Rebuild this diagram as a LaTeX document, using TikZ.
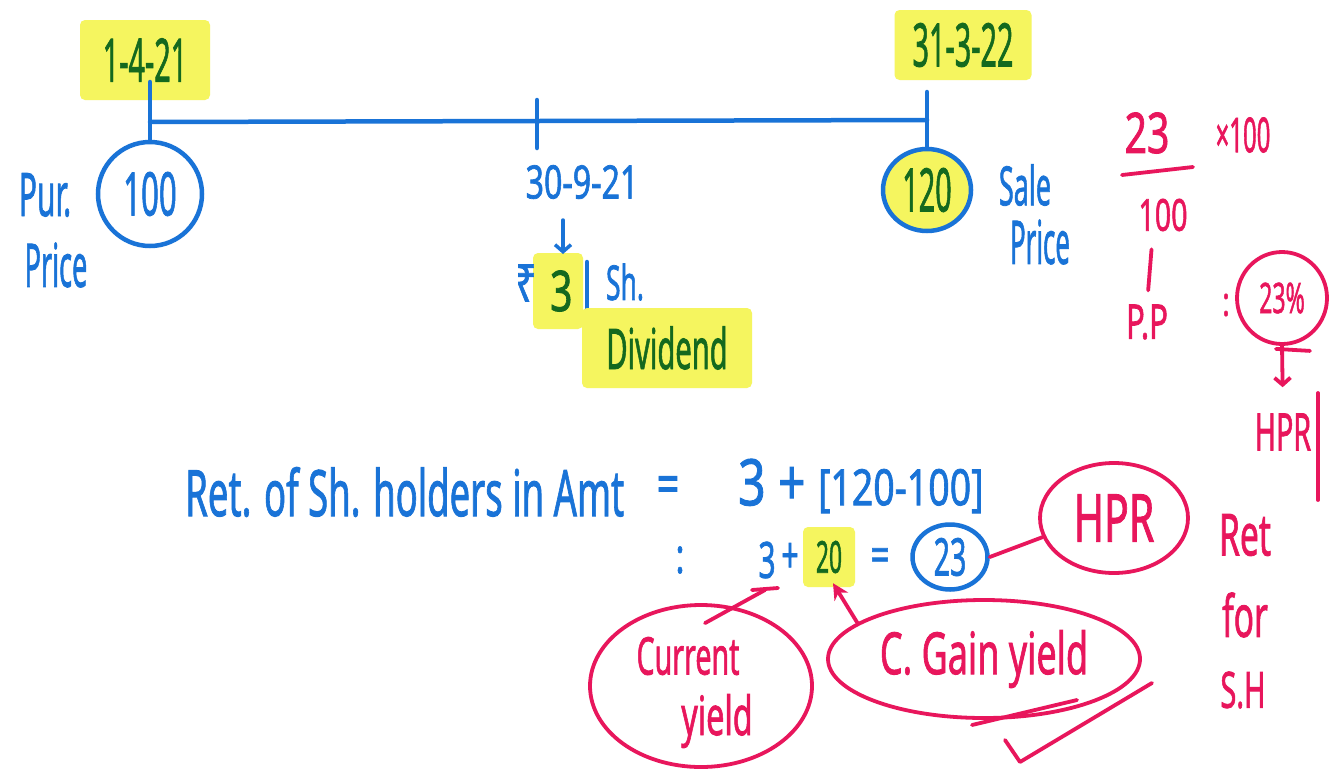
\documentclass[tikz,border=0pt]{standalone}
\usepackage{fontspec}
\setmainfont{Noto Sans}[AutoFakeBold=1.6]
\usepackage{graphicx}
\usetikzlibrary{shapes.geometric,arrows.meta}
\definecolor{inkblue}{RGB}{25,115,215}
\definecolor{inkgreen}{RGB}{20,105,30}
\definecolor{hlyellow}{RGB}{245,245,95}
\definecolor{inkred}{RGB}{232,22,92}
\newcommand{\hw}[3][0.55]{{\fontsize{#2}{#2}\selectfont\bfseries\scalebox{#1}[1]{#3}}}
\begin{document}
\begin{tikzpicture}[x=1pt,y=-1pt,
  bl/.style={text=inkblue, inner sep=0pt},
  gr/.style={text=inkgreen, inner sep=0pt},
  rd/.style={text=inkred, inner sep=0pt},
  hl/.style={fill=hlyellow, rounded corners=5pt},
  bline/.style={draw=inkblue, line width=4.5pt, line cap=round},
  rline/.style={draw=inkred, line width=3.8pt, line cap=round, line join=round},
  bring/.style={ellipse, draw=inkblue, line width=4.5pt},
  rring/.style={ellipse, draw=inkred, line width=3.8pt},
  barb/.style={-{Straight Barb[length=7pt,width=16pt]}},
  stl/.style={-{Stealth[length=16pt,width=16pt]}}
]
\useasboundingbox[fill=white] (0,0) rectangle (1336,774);

% ---- timeline ----
\node[gr, hl, minimum width=130, minimum height=80] (d1) at (145,60) {\hw[0.48]{60}{1-4-21}};
\node[gr, hl, minimum width=137, minimum height=70] (d3) at (963,45) {\hw[0.48]{60}{31-3-22}};
\node[bring, minimum width=104, minimum height=104, bl] (c100) at (150,194) {\hw[0.52]{60}{100}};
\node[bring, fill=hlyellow, minimum width=88, minimum height=82, gr] (c120) at (927,190) {\hw[0.48]{60}{120}};
\coordinate (t1top) at (150,82);
\coordinate (t1) at (150,122);
\coordinate (t2top) at (537,100);
\coordinate (t2bot) at (537,148);
\coordinate (t3top) at (927,92);
\coordinate (t3) at (927,120);
\draw[bline] (t1top) -- (c100.north);
\draw[bline] (t1) -- (t3);
\draw[bline] (t2top) -- (t2bot);
\draw[bline] (t3top) -- (c120.north);

\node[bl] (pur) at (45,195) {\hw[0.5]{60}{Pur.}};
\node[bl] (pprice) at (56,265) {\hw[0.45]{60}{Price}};
\node[bl] (sale) at (1025,185) {\hw[0.5]{54}{Sale}};
\node[bl] (sprice) at (1040,242) {\hw[0.43]{60}{Price}};

% ---- dividend ----
\node[bl] (mid) at (582,182) {\hw[0.7]{46}{30-9-21}};
\node[gr, hl, minimum width=50, minimum height=76] (three) at (558,291) {\hw[0.7]{56}{\,3}};
\node[bl] (rupee) at (526,283) {\hw[0.7]{52}{₹}};
\coordinate (a1s) at (563,220);
\coordinate (a1e) at (563,254);
\draw[bline, line width=3.5pt, barb] (a1s) -- (a1e);
\coordinate (bartop) at (587,262);
\coordinate (barbot) at (587,327);
\draw[bline] (bartop) -- (barbot);
\node[bl] (sh) at (625,282) {\hw[0.55]{48}{Sh.}};
\node[gr, hl, minimum width=170, minimum height=80] (div) at (667,348) {\hw[0.52]{56}{Dividend}};

% ---- equation ----
\node[bl, anchor=west] (eq1) at (185,492) {\hw[0.57]{64}{Ret. of Sh. holders in Amt}};
\node[bl] (eqs1) at (668,490) {\hw[0.7]{56}{=}};
\node[bl, anchor=west] (eq2) at (738,486) {\bfseries\scalebox{0.75}[1]{\fontsize{64}{64}\selectfont 3 + \fontsize{50}{50}\selectfont[120-100]}};

\node[bl] (colon) at (680,560) {\hw[0.7]{48}{:}};
\node[bl] (s3) at (767,560) {\hw[0.6]{50}{3}};
\node[bl] (plus) at (790,558) {\hw[0.6]{50}{+}};
\node[gr, hl, minimum width=52, minimum height=60] (s20) at (829,557) {\hw[0.52]{44}{20}};
\node[bl] (eqs2) at (880,560) {\hw[0.7]{48}{=}};
\node[bring, minimum width=75, minimum height=65, bl] (c23) at (950,557) {\hw[0.55]{52}{23}};

% ---- red annotations ----
\node[rring, minimum width=148, minimum height=110, rd] (hpr) at (1114,518) {\hw[0.62]{66}{HPR}};
\draw[rline] (c23.east) -- (hpr.195);

\node[rring, minimum width=222, minimum height=162] (cy) at (701,686) {};
\node[rd] (cyt1) at (688,656) {\hw[0.55]{52}{Current}};
\node[rd] (cyt2) at (717,721) {\hw[0.6]{54}{yield}};
\node[rring, minimum width=312, minimum height=118, rd] (cg) at (984,659) {\hw[0.62]{58}{C. Gain yield}};

\draw[rline, stl] (cg.164) -- ([xshift=4pt,yshift=4pt]s20.south);
\coordinate (cytip) at (765,590);
\draw[rline] (cy.north) ++(4,20) -- (cytip);
\draw[rline] (cytip) ++(-13,0) -- ++(26,-2);

\draw[rline] (972,725) -- (1077,700);
\draw[rline] (1005,740) -- (1020,762) -- (1152,683);

% ---- right column ----
\node[rd] (r23) at (1147,133) {\hw[0.7]{56}{23}};
\coordinate (fl1) at (1122,175);
\coordinate (fl2) at (1193,167);
\draw[rline] (fl1) -- (fl2);
\node[rd] (rx100) at (1243,135) {\hw[0.5]{48}{×100}};
\node[rd] (r100) at (1163,215) {\hw[0.65]{44}{100}};
\node[rd] (rpp) at (1147,322) {\hw[0.65]{48}{P.P}};
\draw[rline, shorten <=18pt, shorten >=14pt] ([xshift=-10pt]r100.south) -- (rpp.north);
\node[rd] (rcol) at (1226,305) {\hw[0.7]{40}{:}};
\node[rring, minimum width=90, minimum height=92, rd] (r23p) at (1282,298) {\hw[0.55]{42}{23\%}};
\node[rd] (rhpr) at (1283,432) {\hw[0.55]{52}{HPR}};
\draw[rline] (r23p.south) ++(-6,3) -- ++(34,2);
\draw[rline, barb, shorten >=26pt] (r23p.south) -- (rhpr.north);
\coordinate (hb1) at (1318,393);
\coordinate (hb2) at (1318,500);
\draw[rline] (hb1) -- (hb2);
\node[rd] (rret) at (1245,535) {\hw[0.58]{58}{Ret}};
\node[rd] (rfor) at (1245,615) {\hw[0.58]{58}{for}};
\node[rd] (rsh) at (1243,690) {\hw[0.58]{50}{S.H}};
\end{tikzpicture}
\end{document}
